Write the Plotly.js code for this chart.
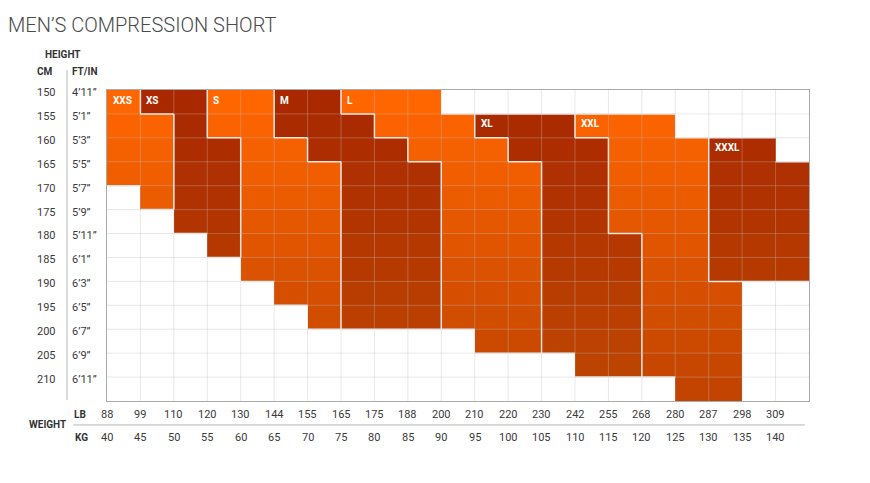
<!DOCTYPE html>
<html>
<head>
<meta charset="utf-8">
<script src="https://cdn.plot.ly/plotly-3.0.1.min.js"></script>
<style>
  body { margin: 0; background: #fff; }
  #chart { width: 870px; height: 483px; }
</style>
</head>
<body>
<div id="chart"></div>
<script>
// Men's compression short size chart: weight columns x height rows

var lbTicks = [88, 99, 110, 120, 130, 144, 155, 165, 175, 188, 200, 210, 220, 230, 242, 255, 268, 280, 287, 298, 309];
var kgTicks = [40, 45, 50, 55, 60, 65, 70, 75, 80, 85, 90, 95, 100, 105, 110, 115, 120, 125, 130, 135, 140];
var cmTicks = [150, 155, 160, 165, 170, 175, 180, 185, 190, 195, 200, 205, 210];
var ftTicks = ['4’11”', '5’1”', '5’3”', '5’5”', '5’7”', '5’9”', '5’11”', '6’1”', '6’3”', '6’5”', '6’7”', '6’9”', '6’11”'];

// each size: list of [column, first row, last row]
var sizeNames = ['XXS', 'XS', 'S', 'M', 'L', 'XL', 'XXL', 'XXXL'];
var sizeTone = [0, 1, 0, 1, 0, 1, 0, 1];   // 0 = bright orange, 1 = dark rust
var sizeSpans = [
	[[0, 0, 3], [1, 1, 4]],
	[[1, 0, 0], [2, 0, 5], [3, 2, 6]],
	[[3, 0, 1], [4, 0, 7], [5, 2, 8], [6, 3, 9]],
	[[5, 0, 1], [6, 0, 2], [7, 1, 9], [8, 2, 9], [9, 3, 9]],
	[[7, 0, 0], [8, 0, 1], [9, 0, 2], [10, 1, 9], [11, 2, 10], [12, 3, 10]],
	[[11, 1, 1], [12, 1, 2], [13, 1, 10], [14, 2, 11], [15, 6, 11]],
	[[14, 1, 1], [15, 1, 5], [16, 1, 11], [17, 2, 12], [18, 8, 12]],
	[[18, 2, 7], [19, 2, 7], [20, 3, 7]]
];

var nCols = lbTicks.length;
var nRows = cmTicks.length;

// build grid of size index per cell
var owner = [];
for (var r = 0; r < nRows; r++) {
	owner.push([]);
	for (var c = 0; c < nCols; c++) owner[r].push(-1);
}
sizeSpans.forEach(function (spans, s) {
	spans.forEach(function (sp) {
		for (var r = sp[1]; r <= sp[2]; r++) owner[r][sp[0]] = s;
	});
});

// z: orange cells 0..12 by row, dark cells 13..25 by row
var z = owner.map(function (row, r) {
	return row.map(function (s) {
		if (s < 0) return null;
		return sizeTone[s] ? nRows + r : r;
	});
});

var xs = [], ys = [];
for (var c = 0; c < nCols; c++) xs.push(c);
for (var r = 0; r < nRows; r++) ys.push(r);

var zTop = 2 * nRows - 1;
var trace = {
	type: 'heatmap',
	x: xs,
	y: ys,
	z: z,
	zmin: 0,
	zmax: zTop,
	colorscale: [
		[0, '#ff6600'],
		[(nRows - 1) / zTop, '#c24400'],
		[nRows / zTop, '#a92800'],
		[1, '#bf4700']
	],
	showscale: false,
	hoverinfo: 'skip'
};

// grid lines over the cells
var shapes = [];
for (var c = 1; c < nCols; c++) {
	shapes.push({type: 'line', xref: 'x', yref: 'y', x0: c - 0.5, x1: c - 0.5, y0: -0.5, y1: nRows - 0.5,
		line: {color: 'rgba(190,190,190,0.35)', width: 1}, layer: 'above'});
}
for (var r = 1; r < nRows; r++) {
	shapes.push({type: 'line', xref: 'x', yref: 'y', x0: -0.5, x1: nCols - 0.5, y0: r - 0.5, y1: r - 0.5,
		line: {color: 'rgba(190,190,190,0.35)', width: 1}, layer: 'above'});
}

// borders between different sizes
var edge = {color: '#e6e6e6', width: 1.5};
for (var r = 0; r < nRows; r++) {
	for (var c = 0; c < nCols; c++) {
		var s = owner[r][c];
		if (c > 0 && s !== owner[r][c - 1] && s >= 0 && owner[r][c - 1] >= 0) {
			shapes.push({type: 'line', xref: 'x', yref: 'y', x0: c - 0.5, x1: c - 0.5, y0: r - 0.5, y1: r + 0.5, line: edge, layer: 'above'});
		}
		if (r > 0 && s !== owner[r - 1][c] && (s >= 0 || owner[r - 1][c] >= 0)) {
			shapes.push({type: 'line', xref: 'x', yref: 'y', x0: c - 0.5, x1: c + 0.5, y0: r - 0.5, y1: r - 0.5, line: edge, layer: 'above'});
		}
	}
}

// side and bottom separators
shapes.push({type: 'line', xref: 'paper', yref: 'paper', x0: -0.057, x1: -0.057, y0: 1.064, y1: 0.003,
	line: {color: '#b5b5b5', width: 1}});
shapes.push({type: 'line', xref: 'paper', yref: 'paper', x0: -0.048, x1: 0.994, y0: -0.077, y1: -0.077,
	line: {color: '#b5b5b5', width: 1}});

var tickFont = {family: 'Roboto, sans-serif', size: 11, color: '#3a3a3a'};
var headFont = {family: 'Roboto, sans-serif', size: 10, color: '#333', weight: 'bold'};
var annotations = [];

cmTicks.forEach(function (v, r) {
	annotations.push({xref: 'paper', yref: 'y', x: 0, y: r - 0.4, xshift: -61, text: String(v),
		showarrow: false, xanchor: 'center', yanchor: 'middle', font: tickFont});
	annotations.push({xref: 'paper', yref: 'y', x: 0, y: r - 0.4, xshift: -37, text: ftTicks[r],
		showarrow: false, xanchor: 'left', yanchor: 'middle', font: tickFont});
});
lbTicks.forEach(function (v, c) {
	annotations.push({xref: 'x', yref: 'paper', x: c - 0.5, y: 0, yshift: -13, text: String(v),
		showarrow: false, xanchor: 'center', yanchor: 'middle', font: tickFont});
	annotations.push({xref: 'x', yref: 'paper', x: c - 0.5, y: 0, yshift: -36, text: String(kgTicks[c]),
		showarrow: false, xanchor: 'center', yanchor: 'middle', font: tickFont});
});

function head(text, xs, ys, anchor) {
	annotations.push({xref: 'paper', yref: 'paper', x: 0, y: 0, xshift: xs, yshift: ys, text: text,
		showarrow: false, xanchor: anchor, yanchor: 'middle', font: headFont});
}
head('HEIGHT', -44, 347, 'center');
head('CM', -62, 330, 'center');
head('FT/IN', -37, 330, 'left');
head('LB', -27, -13, 'center');
head('KG', -26, -36, 'center');
head('WEIGHT', -60, -23, 'center');

// size names in the first cell of each size
sizeSpans.forEach(function (spans, s) {
	annotations.push({xref: 'x', yref: 'y', x: spans[0][0] - 0.5, y: spans[0][1] - 0.08, xshift: 4,
		text: sizeNames[s], showarrow: false, xanchor: 'left', yanchor: 'middle',
		font: {family: 'Roboto, sans-serif', size: 10, color: '#fff', weight: 'bold'}});
});

var layout = {
	width: 870,
	height: 483,
	margin: {l: 107, r: 61, t: 90, b: 82},
	paper_bgcolor: '#fff',
	plot_bgcolor: '#fff',
	showlegend: false,
	title: {
		text: 'MEN’S COMPRESSION SHORT',
		x: 8 / 870, xref: 'container', xanchor: 'left',
		y: 1 - 25 / 483, yref: 'container', yanchor: 'middle',
		font: {family: 'Roboto, sans-serif', size: 20, color: '#4a4a4a', weight: 300}
	},
	xaxis: {
		range: [-0.5, nCols - 0.5], showgrid: false, zeroline: false, showticklabels: false, ticks: '',
		showline: true, mirror: true, linecolor: '#aaa', linewidth: 1, fixedrange: true
	},
	yaxis: {
		range: [nRows - 0.5, -0.5], showgrid: false, zeroline: false, showticklabels: false, ticks: '',
		showline: true, mirror: true, linecolor: '#aaa', linewidth: 1, fixedrange: true
	},
	shapes: shapes,
	annotations: annotations
};

Plotly.newPlot('chart', [trace], layout, {displayModeBar: false, staticPlot: true});
</script>
</body>
</html>
